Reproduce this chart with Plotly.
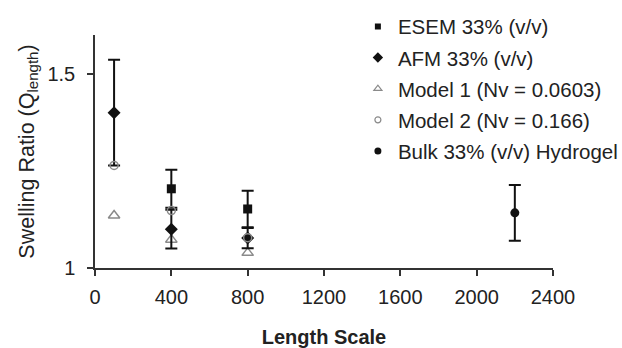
import plotly.graph_objects as go

# Data
esem_x = [400, 800]
esem_y = [1.204, 1.152]
esem_err = [0.049, 0.047]

afm_x = [100, 400, 800]
afm_y = [1.400, 1.100, 1.077]
afm_err = [0.136, 0.050, 0.026]

model1_x = [100, 400, 800]
model1_y = [1.135, 1.073, 1.039]

model2_x = [100, 400, 800]
model2_y = [1.264, 1.148, 1.078]

bulk_x = [2200]
bulk_y = [1.142]
bulk_err = [0.072]

x_ticks = [0, 400, 800, 1200, 1600, 2000, 2400]
y_ticks = [1, 1.5]
y_ticktext = ["1", "1.5"]

names = ["ESEM 33% (v/v)", "AFM 33% (v/v)", "Model 1 (Nv = 0.0603)",
         "Model 2 (Nv = 0.166)", "Bulk 33% (v/v) Hydrogel"]

GRAY = "#8a8a8a"
BLACK = "#111111"
FONT = "Liberation Sans, Arial, sans-serif"

fig = go.Figure()

def err(vals):
    return dict(type="data", array=vals, visible=True, color=BLACK, thickness=2, width=6)

# Data traces (no legend)
fig.add_trace(go.Scatter(x=model1_x, y=model1_y, mode="markers", showlegend=False,
                         marker=dict(symbol="triangle-up-open", size=10, color=GRAY, line=dict(width=1.5, color=GRAY))))
fig.add_trace(go.Scatter(x=esem_x, y=esem_y, mode="markers", showlegend=False, error_y=err(esem_err),
                         marker=dict(symbol="square", size=9, color=BLACK)))
fig.add_trace(go.Scatter(x=afm_x, y=afm_y, mode="markers", showlegend=False, error_y=err(afm_err),
                         marker=dict(symbol="diamond", size=10, color=BLACK)))
fig.add_trace(go.Scatter(x=model2_x, y=model2_y, mode="markers", showlegend=False,
                         marker=dict(symbol="circle-open", size=8, color=GRAY, line=dict(width=1.5, color=GRAY))))
fig.add_trace(go.Scatter(x=bulk_x, y=bulk_y, mode="markers", showlegend=False, error_y=err(bulk_err),
                         marker=dict(symbol="circle", size=9, color=BLACK)))

# Legend entries
leg = [
    (names[0], dict(symbol="square", size=6, color=BLACK)),
    (names[1], dict(symbol="diamond", size=8, color=BLACK)),
    (names[2], dict(symbol="triangle-up-open", size=7, color=GRAY, line=dict(width=1.2, color=GRAY))),
    (names[3], dict(symbol="circle-open", size=6, color=GRAY, line=dict(width=1.2, color=GRAY))),
    (names[4], dict(symbol="circle", size=7, color=BLACK)),
]
for i, (n, m) in enumerate(leg):
    fig.add_trace(go.Scatter(x=[None], y=[None], mode="markers", name=n, marker=m,
                             legendgroup=f"g{i}", showlegend=True))

fig.update_layout(
    width=622, height=348,
    margin=dict(l=95, r=69, t=35, b=80, autoexpand=False),
    paper_bgcolor="white", plot_bgcolor="white",
    font=dict(family=FONT, size=20, color="#222222"),
    legend=dict(x=0.574, y=1.122, xanchor="left", yanchor="top",
                font=dict(family=FONT, size=20.5, color="#222222"),
                bgcolor="rgba(0,0,0,0)", tracegroupgap=1.5),
    xaxis=dict(range=[0, 2400], tickvals=x_ticks, showgrid=False, zeroline=False,
               showline=True, linecolor="#333333", linewidth=1.5,
               ticks="outside", ticklen=6, tickwidth=1.5, tickcolor="#333333",
               tickfont=dict(size=20), ticklabelstandoff=4,
               title=dict(text="<b>Length Scale</b>", font=dict(size=20), standoff=25)),
    yaxis=dict(range=[1, 1.6], tickvals=y_ticks, ticktext=y_ticktext, showgrid=False, zeroline=False,
               showline=True, linecolor="#333333", linewidth=1.5,
               ticks="outside", ticklen=6, tickwidth=1.5, tickcolor="#333333",
               tickfont=dict(size=20), ticklabelstandoff=8,
               title=dict(text="Swelling Ratio (Q<sub>length</sub>)", font=dict(size=21.5), standoff=7)),
)

fig.write_html("out.html")
